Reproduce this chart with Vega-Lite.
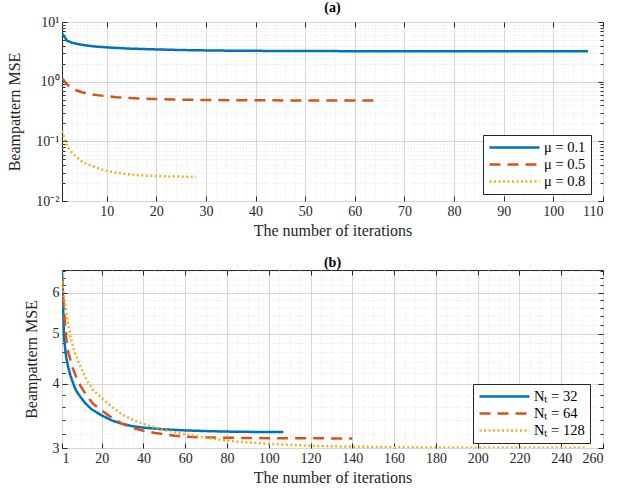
{
  "$schema": "https://vega.github.io/schema/vega-lite/v6.json",
  "background": "white",
  "padding": {"left": 6, "top": 0, "right": 5, "bottom": 4},
  "spacing": 16,
  "resolve": {
    "scale": {"color": "independent", "strokeDash": "independent"},
    "legend": {"color": "independent", "strokeDash": "independent"}
  },
  "config": {
    "font": "Liberation Serif",
    "view": {"stroke": "#262626", "strokeWidth": 1},
    "axis": {
      "labelFont": "Liberation Serif",
      "labelFontSize": 14,
      "labelColor": "#262626",
      "titleFont": "Liberation Serif",
      "titleFontSize": 16,
      "titleFontWeight": "normal",
      "titleColor": "#262626",
      "tickColor": "#262626",
      "tickWidth": 1,
      "domain": false,
      "gridWidth": 1
    },
    "title": {"font": "Liberation Serif", "fontSize": 14, "fontWeight": "bold", "color": "#000000", "offset": -5, "dy": -5},
    "legend": {
      "labelFont": "Liberation Serif",
      "labelFontSize": 14.5,
      "labelColor": "#000000",
      "symbolStrokeWidth": 2.5,
      "symbolSize": 2500,
      "symbolType": "stroke",
      "strokeColor": "#262626",
      "fillColor": "white",
      "padding": 5,
      "clipHeight": 15,
      "rowPadding": 1,
      "labelOffset": 3
    }
  },
  "datasets": {
    "a": [
      {"s": "μ = 0.1", "it": 1, "v": 6.5}, {"s": "μ = 0.1", "it": 2, "v": 4.88}, {"s": "μ = 0.1", "it": 3, "v": 4.5},
      {"s": "μ = 0.1", "it": 4, "v": 4.3}, {"s": "μ = 0.1", "it": 5, "v": 4.15}, {"s": "μ = 0.1", "it": 6, "v": 4.04},
      {"s": "μ = 0.1", "it": 7, "v": 3.94}, {"s": "μ = 0.1", "it": 8, "v": 3.86}, {"s": "μ = 0.1", "it": 10, "v": 3.76},
      {"s": "μ = 0.1", "it": 12, "v": 3.67}, {"s": "μ = 0.1", "it": 15, "v": 3.57}, {"s": "μ = 0.1", "it": 20, "v": 3.47},
      {"s": "μ = 0.1", "it": 25, "v": 3.39}, {"s": "μ = 0.1", "it": 30, "v": 3.34}, {"s": "μ = 0.1", "it": 35, "v": 3.305},
      {"s": "μ = 0.1", "it": 40, "v": 3.285}, {"s": "μ = 0.1", "it": 50, "v": 3.26}, {"s": "μ = 0.1", "it": 60, "v": 3.245},
      {"s": "μ = 0.1", "it": 70, "v": 3.235}, {"s": "μ = 0.1", "it": 80, "v": 3.228}, {"s": "μ = 0.1", "it": 90, "v": 3.224},
      {"s": "μ = 0.1", "it": 107, "v": 3.222},
      {"s": "μ = 0.5", "it": 1, "v": 1.15}, {"s": "μ = 0.5", "it": 2, "v": 0.9}, {"s": "μ = 0.5", "it": 3, "v": 0.78},
      {"s": "μ = 0.5", "it": 4, "v": 0.71}, {"s": "μ = 0.5", "it": 5, "v": 0.665}, {"s": "μ = 0.5", "it": 6, "v": 0.635},
      {"s": "μ = 0.5", "it": 8, "v": 0.595}, {"s": "μ = 0.5", "it": 10, "v": 0.57}, {"s": "μ = 0.5", "it": 12, "v": 0.55},
      {"s": "μ = 0.5", "it": 15, "v": 0.53}, {"s": "μ = 0.5", "it": 20, "v": 0.51}, {"s": "μ = 0.5", "it": 25, "v": 0.5},
      {"s": "μ = 0.5", "it": 30, "v": 0.493}, {"s": "μ = 0.5", "it": 40, "v": 0.487}, {"s": "μ = 0.5", "it": 50, "v": 0.484},
      {"s": "μ = 0.5", "it": 64, "v": 0.482},
      {"s": "μ = 0.8", "it": 1, "v": 0.15}, {"s": "μ = 0.8", "it": 2, "v": 0.085}, {"s": "μ = 0.8", "it": 3, "v": 0.065},
      {"s": "μ = 0.8", "it": 4, "v": 0.054}, {"s": "μ = 0.8", "it": 5, "v": 0.046}, {"s": "μ = 0.8", "it": 6, "v": 0.042},
      {"s": "μ = 0.8", "it": 8, "v": 0.036}, {"s": "μ = 0.8", "it": 10, "v": 0.032}, {"s": "μ = 0.8", "it": 12, "v": 0.0298},
      {"s": "μ = 0.8", "it": 15, "v": 0.0275}, {"s": "μ = 0.8", "it": 18, "v": 0.0266}, {"s": "μ = 0.8", "it": 22, "v": 0.0259},
      {"s": "μ = 0.8", "it": 28, "v": 0.0254}
    ],
    "b": [
      {"s": "Nₜ = 32", "it": 1, "v": 6.64}, {"s": "Nₜ = 32", "it": 2, "v": 4.88}, {"s": "Nₜ = 32", "it": 3, "v": 4.5},
      {"s": "Nₜ = 32", "it": 4, "v": 4.3}, {"s": "Nₜ = 32", "it": 5, "v": 4.15}, {"s": "Nₜ = 32", "it": 6, "v": 4.04},
      {"s": "Nₜ = 32", "it": 7, "v": 3.94}, {"s": "Nₜ = 32", "it": 8, "v": 3.86}, {"s": "Nₜ = 32", "it": 10, "v": 3.76},
      {"s": "Nₜ = 32", "it": 12, "v": 3.67}, {"s": "Nₜ = 32", "it": 15, "v": 3.57}, {"s": "Nₜ = 32", "it": 20, "v": 3.47},
      {"s": "Nₜ = 32", "it": 25, "v": 3.39}, {"s": "Nₜ = 32", "it": 30, "v": 3.34}, {"s": "Nₜ = 32", "it": 35, "v": 3.305},
      {"s": "Nₜ = 32", "it": 40, "v": 3.285}, {"s": "Nₜ = 32", "it": 50, "v": 3.26}, {"s": "Nₜ = 32", "it": 60, "v": 3.245},
      {"s": "Nₜ = 32", "it": 70, "v": 3.235}, {"s": "Nₜ = 32", "it": 80, "v": 3.228}, {"s": "Nₜ = 32", "it": 90, "v": 3.224},
      {"s": "Nₜ = 32", "it": 107, "v": 3.222},
      {"s": "Nₜ = 64", "it": 1, "v": 6.4}, {"s": "Nₜ = 64", "it": 2, "v": 5.5}, {"s": "Nₜ = 64", "it": 3, "v": 4.9},
      {"s": "Nₜ = 64", "it": 4, "v": 4.6}, {"s": "Nₜ = 64", "it": 6, "v": 4.3}, {"s": "Nₜ = 64", "it": 8, "v": 4.1},
      {"s": "Nₜ = 64", "it": 10, "v": 3.95}, {"s": "Nₜ = 64", "it": 13, "v": 3.78}, {"s": "Nₜ = 64", "it": 16, "v": 3.65},
      {"s": "Nₜ = 64", "it": 20, "v": 3.55}, {"s": "Nₜ = 64", "it": 25, "v": 3.43}, {"s": "Nₜ = 64", "it": 30, "v": 3.34},
      {"s": "Nₜ = 64", "it": 35, "v": 3.28}, {"s": "Nₜ = 64", "it": 40, "v": 3.24}, {"s": "Nₜ = 64", "it": 45, "v": 3.21},
      {"s": "Nₜ = 64", "it": 50, "v": 3.19}, {"s": "Nₜ = 64", "it": 55, "v": 3.17}, {"s": "Nₜ = 64", "it": 60, "v": 3.155},
      {"s": "Nₜ = 64", "it": 70, "v": 3.145}, {"s": "Nₜ = 64", "it": 80, "v": 3.14}, {"s": "Nₜ = 64", "it": 100, "v": 3.135},
      {"s": "Nₜ = 64", "it": 140, "v": 3.13},
      {"s": "Nₜ = 128", "it": 1, "v": 6.3}, {"s": "Nₜ = 128", "it": 2, "v": 5.9}, {"s": "Nₜ = 128", "it": 3, "v": 5.5},
      {"s": "Nₜ = 128", "it": 5, "v": 4.95}, {"s": "Nₜ = 128", "it": 7, "v": 4.6}, {"s": "Nₜ = 128", "it": 10, "v": 4.3},
      {"s": "Nₜ = 128", "it": 13, "v": 4.05}, {"s": "Nₜ = 128", "it": 16, "v": 3.88}, {"s": "Nₜ = 128", "it": 20, "v": 3.75},
      {"s": "Nₜ = 128", "it": 25, "v": 3.6}, {"s": "Nₜ = 128", "it": 30, "v": 3.48}, {"s": "Nₜ = 128", "it": 35, "v": 3.4},
      {"s": "Nₜ = 128", "it": 40, "v": 3.34}, {"s": "Nₜ = 128", "it": 45, "v": 3.29}, {"s": "Nₜ = 128", "it": 50, "v": 3.25},
      {"s": "Nₜ = 128", "it": 60, "v": 3.19}, {"s": "Nₜ = 128", "it": 70, "v": 3.14}, {"s": "Nₜ = 128", "it": 80, "v": 3.1},
      {"s": "Nₜ = 128", "it": 90, "v": 3.075}, {"s": "Nₜ = 128", "it": 100, "v": 3.055}, {"s": "Nₜ = 128", "it": 120, "v": 3.03},
      {"s": "Nₜ = 128", "it": 140, "v": 3.018}, {"s": "Nₜ = 128", "it": 160, "v": 3.01}, {"s": "Nₜ = 128", "it": 200, "v": 3.004},
      {"s": "Nₜ = 128", "it": 252, "v": 3.002}
    ]
  },
  "vconcat": [
    {
      "title": {"text": "(a)"},
      "width": 541,
      "height": 179,
      "data": {"name": "a"},
      "resolve": {"axis": {"x": "independent", "y": "independent"}},
      "layer": [
        {
          "mark": {"type": "line", "strokeWidth": 2.5, "clip": true},
          "encoding": {
            "x": {
              "field": "it", "type": "quantitative",
              "scale": {"domain": [1, 110], "nice": false, "zero": false},
              "axis": {
                "orient": "bottom",
                "title": "The number of iterations",
                "titlePadding": 4,
                "values": [2,4,6,8,10,12,14,16,18,20,22,24,26,28,30,32,34,36,38,40,42,44,46,48,50,52,54,56,58,60,62,64,66,68,70,72,74,76,78,80,82,84,86,88,90,92,94,96,98,100,102,104,106,108,110],
                "labelExpr": "datum.value % 10 == 0 ? datum.label : ''",
                "labelPadding": 8,
                "tickSize": -5,
                "tickOpacity": {"condition": {"test": "datum.value % 10 == 0", "value": 1}, "value": 0},
                "gridColor": {"condition": {"test": "datum.value % 10 == 0", "value": "#d6d6d6"}, "value": "#e4e4e4"},
                "gridDash": {"condition": {"test": "datum.value % 10 == 0", "value": []}, "value": [1, 2]}
              }
            },
            "y": {
              "field": "v", "type": "quantitative",
              "scale": {"type": "log", "domain": [0.01, 10], "nice": false},
              "axis": {
                "orient": "left",
                "title": "Beampattern MSE",
                "titlePadding": 13,
                "values": [0.01,0.02,0.03,0.04,0.05,0.06,0.07,0.08,0.09,0.1,0.2,0.3,0.4,0.5,0.6,0.7,0.8,0.9,1,2,3,4,5,6,7,8,9,10],
                "labelExpr": "datum.value == 10 ? '10¹' : datum.value == 1 ? '10⁰' : datum.value == 0.1 ? '10⁻¹' : datum.value == 0.01 ? '10⁻²' : ''",
                "labelPadding": 8,
                "tickSize": -5,
                "tickOpacity": 1,
                "tickDash": {"condition": {"test": "indexof([0.01, 0.1, 1, 10], datum.value) >= 0", "value": []}, "value": [3, 10]},
                "gridColor": {"condition": {"test": "indexof([0.01, 0.1, 1, 10], datum.value) >= 0", "value": "#d6d6d6"}, "value": "#e4e4e4"},
                "gridDash": {"condition": {"test": "indexof([0.01, 0.1, 1, 10], datum.value) >= 0", "value": []}, "value": [1, 2]}
              }
            },
            "color": {
              "field": "s", "type": "nominal",
              "scale": {"domain": ["μ = 0.1", "μ = 0.5", "μ = 0.8"], "range": ["#0072BD", "#D95319", "#EDB120"]},
              "legend": {"title": null, "orient": "none", "legendX": 421, "legendY": 113}
            },
            "strokeDash": {
              "field": "s", "type": "nominal",
              "scale": {"domain": ["μ = 0.1", "μ = 0.5", "μ = 0.8"], "range": [[1, 0], [11, 7], [2, 2.5]]},
              "legend": {"title": null, "orient": "none", "legendX": 421, "legendY": 113}
            }
          }
        },
        {
          "mark": {"type": "line", "opacity": 0},
          "encoding": {
            "x": {
              "field": "it", "type": "quantitative",
              "axis": {"orient": "top", "title": null, "labels": false, "grid": false, "tickSize": -5,
                       "minExtent": 0, "maxExtent": 0,
                       "values": [10,20,30,40,50,60,70,80,90,100,110]}
            },
            "y": {
              "field": "v", "type": "quantitative",
              "axis": {
                "orient": "right", "title": null, "labels": false, "grid": false, "tickSize": -5,
                "minExtent": 0, "maxExtent": 0,
                "values": [0.01,0.02,0.03,0.04,0.05,0.06,0.07,0.08,0.09,0.1,0.2,0.3,0.4,0.5,0.6,0.7,0.8,0.9,1,2,3,4,5,6,7,8,9,10],
                "tickDash": {"condition": {"test": "indexof([0.01, 0.1, 1, 10], datum.value) >= 0", "value": []}, "value": [3, 10]}
              }
            },
            "detail": {"field": "s"}
          }
        }
      ]
    },
    {
      "title": {"text": "(b)"},
      "width": 541,
      "height": 178,
      "data": {"name": "b"},
      "resolve": {"axis": {"x": "independent", "y": "independent"}},
      "layer": [
        {
          "mark": {"type": "line", "strokeWidth": 2.5, "clip": true},
          "encoding": {
            "x": {
              "field": "it", "type": "quantitative",
              "scale": {"domain": [1, 260], "nice": false, "zero": false},
              "axis": {
                "orient": "bottom",
                "title": "The number of iterations",
                "titlePadding": 4,
                "values": [1,5,10,15,20,25,30,35,40,45,50,55,60,65,70,75,80,85,90,95,100,105,110,115,120,125,130,135,140,145,150,155,160,165,170,175,180,185,190,195,200,205,210,215,220,225,230,235,240,245,250,255,260],
                "labelExpr": "datum.value % 20 == 0 || datum.value == 1 ? datum.label : ''",
                "labelPadding": 8,
                "tickSize": -5,
                "tickOpacity": {"condition": {"test": "datum.value % 20 == 0 || datum.value == 1", "value": 1}, "value": 0},
                "gridColor": {"condition": {"test": "datum.value % 20 == 0 || datum.value == 1", "value": "#d6d6d6"}, "value": "#e4e4e4"},
                "gridDash": {"condition": {"test": "datum.value % 20 == 0 || datum.value == 1", "value": []}, "value": [1, 2]}
              }
            },
            "y": {
              "field": "v", "type": "quantitative",
              "scale": {"type": "log", "domain": [3, 6.64], "nice": false},
              "axis": {
                "orient": "left",
                "title": "Beampattern MSE",
                "titlePadding": 13,
                "values": [3,3.2,3.4,3.6,3.8,4,4.2,4.4,4.6,4.8,5,5.2,5.4,5.6,5.8,6,6.2,6.4,6.6],
                "labelExpr": "indexof([3, 4, 5, 6], datum.value) >= 0 ? datum.label : ''",
                "labelPadding": 8,
                "tickSize": -5,
                "tickDash": {"condition": {"test": "indexof([3, 4, 5, 6], datum.value) >= 0", "value": []}, "value": [3, 10]},
                "gridColor": {"condition": {"test": "indexof([3, 4, 5, 6], datum.value) >= 0", "value": "#d6d6d6"}, "value": "#e4e4e4"},
                "gridDash": {"condition": {"test": "indexof([3, 4, 5, 6], datum.value) >= 0", "value": []}, "value": [1, 2]}
              }
            },
            "color": {
              "field": "s", "type": "nominal",
              "scale": {"domain": ["Nₜ = 32", "Nₜ = 64", "Nₜ = 128"], "range": ["#0072BD", "#D95319", "#EDB120"]},
              "legend": {"title": null, "orient": "none", "legendX": 411, "legendY": 114}
            },
            "strokeDash": {
              "field": "s", "type": "nominal",
              "scale": {"domain": ["Nₜ = 32", "Nₜ = 64", "Nₜ = 128"], "range": [[1, 0], [11, 7], [2, 2.5]]},
              "legend": {"title": null, "orient": "none", "legendX": 411, "legendY": 114}
            }
          }
        },
        {
          "mark": {"type": "line", "opacity": 0},
          "encoding": {
            "x": {
              "field": "it", "type": "quantitative",
              "axis": {"orient": "top", "title": null, "labels": false, "grid": false, "tickSize": -5,
                       "minExtent": 0, "maxExtent": 0,
                       "values": [20,40,60,80,100,120,140,160,180,200,220,240,260]}
            },
            "y": {
              "field": "v", "type": "quantitative",
              "axis": {
                "orient": "right", "title": null, "labels": false, "grid": false, "tickSize": -5,
                "minExtent": 0, "maxExtent": 0,
                "values": [3,3.2,3.4,3.6,3.8,4,4.2,4.4,4.6,4.8,5,5.2,5.4,5.6,5.8,6,6.2,6.4,6.6],
                "tickDash": {"condition": {"test": "indexof([3, 4, 5, 6], datum.value) >= 0", "value": []}, "value": [3, 10]}
              }
            },
            "detail": {"field": "s"}
          }
        }
      ]
    }
  ]
}
